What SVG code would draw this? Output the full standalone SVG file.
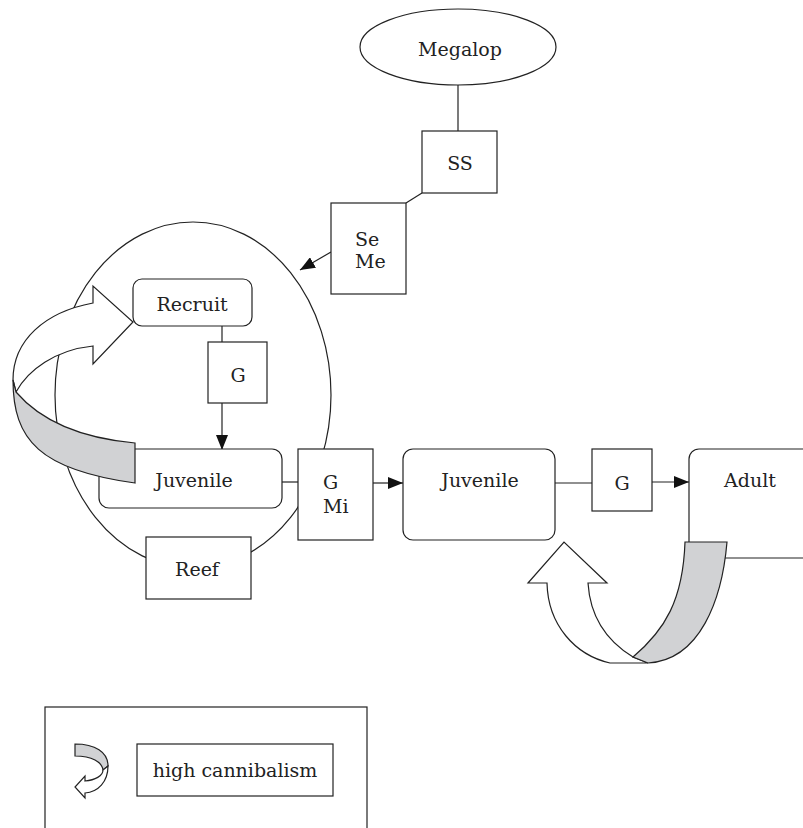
<svg xmlns="http://www.w3.org/2000/svg" width="803" height="828" viewBox="0 0 803 828">
<style>
.b{fill:#fff;stroke:#222;stroke-width:1.2}
.l{fill:none;stroke:#222;stroke-width:1.2}
.t{font-family:"DejaVu Serif","Liberation Serif",serif;font-size:19px;fill:#222}
.m{text-anchor:middle}
.g{fill:#d1d2d4;stroke:#222;stroke-width:1.2}
</style>
<defs>
<marker id="ah" markerUnits="userSpaceOnUse" markerWidth="16" markerHeight="12" refX="15" refY="6" orient="auto">
<path d="M0,0 L15,6 L0,12 z" fill="#111"/>
</marker>
</defs>
<rect width="803" height="828" fill="#fff"/>
<g id="reef-region">
<ellipse class="l" cx="193" cy="395" rx="138" ry="173"/>
</g>
<g id="connectors">
<line class="l" x1="458" y1="85" x2="458" y2="131"/>
<line class="l" x1="422" y1="193" x2="406" y2="203"/>
<line class="l" x1="331" y1="252" x2="300" y2="270" marker-end="url(#ah)"/>
<line class="l" x1="222" y1="326" x2="222" y2="342"/>
<line class="l" x1="222" y1="403" x2="222" y2="450" marker-end="url(#ah)"/>
<line class="l" x1="282" y1="482" x2="298" y2="482"/>
<line class="l" x1="373" y1="483" x2="403" y2="483" marker-end="url(#ah)"/>
<line class="l" x1="555" y1="483" x2="592" y2="483"/>
<line class="l" x1="652" y1="482" x2="689" y2="482" marker-end="url(#ah)"/>
</g>
<g id="megalop">
<ellipse class="b" cx="458" cy="47" rx="98" ry="38"/>
<text class="t m" x="460" y="56">Megalop</text>
</g>
<g id="ss">
<rect class="b" x="422" y="131" width="75" height="62"/>
<text class="t m" x="460" y="170">SS</text>
</g>
<g id="seme">
<rect class="b" x="331" y="203" width="75" height="91"/>
<text class="t" x="355" y="246">Se</text>
<text class="t" x="355" y="268">Me</text>
</g>
<g id="recruit">
<rect class="b" x="133" y="279" width="119" height="47" rx="9"/>
<text class="t m" x="192" y="311">Recruit</text>
</g>
<g id="g1">
<rect class="b" x="208" y="342" width="59" height="61"/>
<text class="t m" x="238" y="382">G</text>
</g>
<g id="juvenile1">
<rect class="b" x="99" y="449" width="183" height="59" rx="10"/>
<text class="t m" x="194" y="487">Juvenile</text>
</g>
<g id="gmi">
<rect class="b" x="298" y="449" width="75" height="91"/>
<text class="t" x="323" y="489">G</text>
<text class="t" x="323" y="513">Mi</text>
</g>
<g id="reef">
<rect class="b" x="146" y="537" width="105" height="62"/>
<text class="t m" x="197" y="576">Reef</text>
</g>
<g id="juvenile2">
<rect class="b" x="403" y="449" width="152" height="91" rx="10"/>
<text class="t m" x="480" y="487">Juvenile</text>
</g>
<g id="g2">
<rect class="b" x="592" y="449" width="60" height="62"/>
<text class="t m" x="622" y="490">G</text>
</g>
<g id="adult">
<rect class="b" x="689" y="449" width="140" height="109" rx="10"/>
<text class="t m" x="750" y="487">Adult</text>
</g>
<g id="cannibalism-juvenile">
<path class="b" d="M16 392 C28 370 55 350 93 346 L93 364 L133 322 L93 286 L93 303 C45 312 13 340 13 380 Z"/>
<path class="g" d="M13 380 C13 440 40 470 135 483 L135 443 C80 438 40 420 16 392 Z"/>
</g>
<g id="cannibalism-adult">
<path class="b" d="M588 583 C590 615 605 640 633 657 L648 663 L610 663 C575 655 548 625 547 583 L528 583 L564 542 L607 583 Z"/>
<path class="g" d="M685 542 L727 542 C722 600 700 660 648 663 L633 657 C665 630 683 600 685 542 Z"/>
</g>
<g id="legend">
<rect class="l" x="45" y="707" width="322" height="140"/>
<path class="g" d="M75 744 C95 744 108 752 108 766 L103 770 C102 762 92 756 75 756 Z"/>
<path class="b" d="M108 766 C108 782 98 792 85 793 L85 798 L75 787 L85 776 L85 781 C95 780 103 776 103 770 Z"/>
<rect class="b" x="137" y="744" width="196" height="52"/>
<text class="t m" x="235" y="777">high cannibalism</text>
</g>
</svg>
